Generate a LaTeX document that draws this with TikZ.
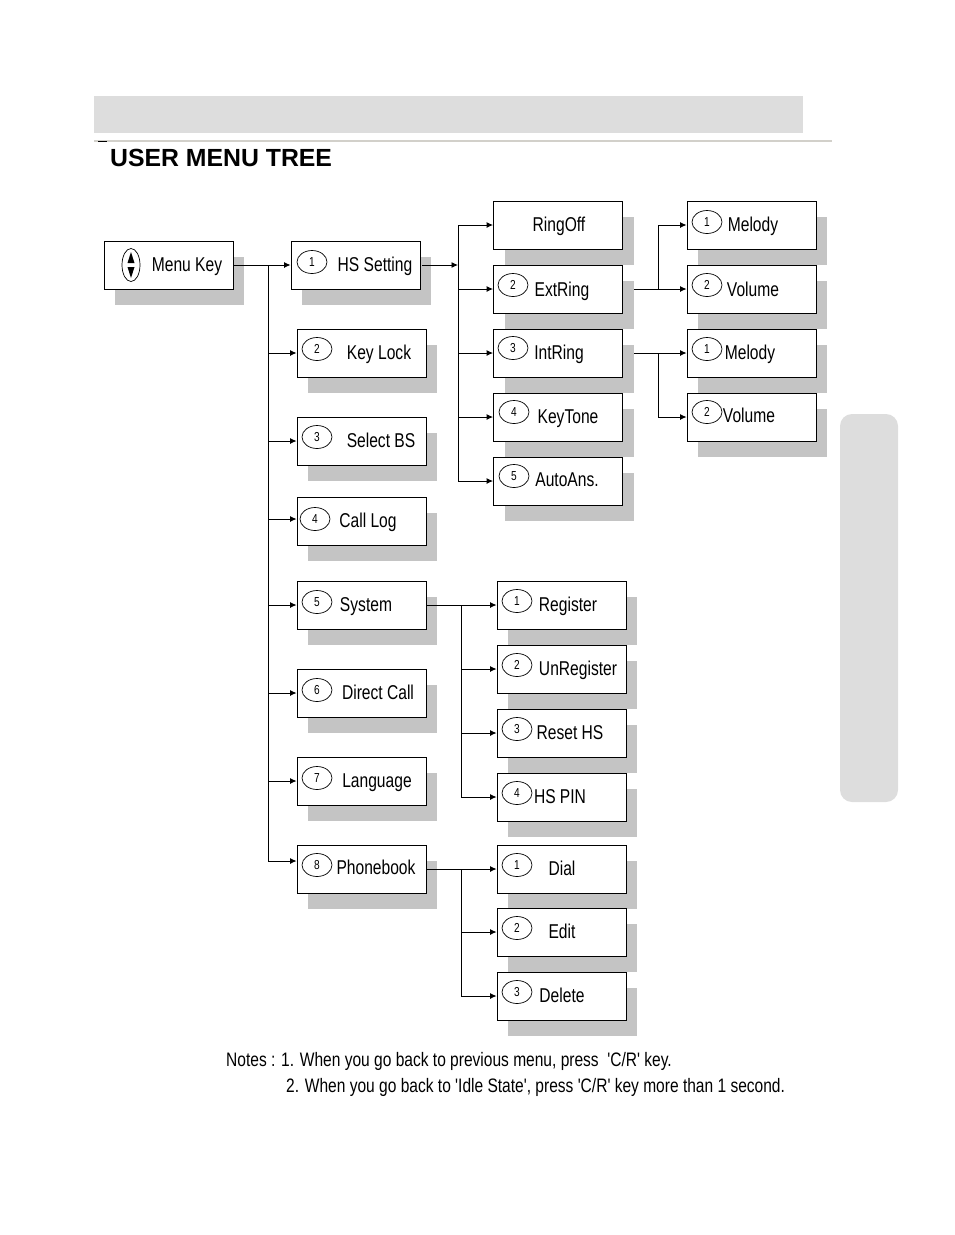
\documentclass[tikz,border=0pt]{standalone}
\usepackage{fontspec}
\newfontfamily\menufont[FakeStretch=0.78]{Liberation Sans}
\newfontfamily\notefont[FakeStretch=0.797]{Liberation Sans}
\newfontfamily\titlefont{Liberation Sans}
\usepackage{xcolor}
\definecolor{bargray}{HTML}{DDDDDD}
\definecolor{shadegray}{HTML}{C4C4C4}
\definecolor{rulegray}{HTML}{D2D0CA}
\usetikzlibrary{arrows.meta,shapes.geometric,shadows}
\tikzset{
  menubox/.style={rectangle,draw=black,fill=white,line width=0.9pt,minimum width=129pt,minimum height=48pt,inner sep=0pt,
    general shadow={shadow xshift=11pt,shadow yshift=-16pt,fill=shadegray}},
  badge/.style={ellipse,draw=black,fill=white,line width=0.7pt,minimum width=30pt,minimum height=23pt,inner sep=0pt,font=\menufont\fontsize{13}{13}\selectfont},
  menutext/.style={inner sep=0pt,text height=14pt,text depth=0pt,font=\menufont\fontsize{20}{20}\selectfont},
  notetext/.style={inner sep=0pt,anchor=west,font=\notefont\fontsize{19.5}{20}\selectfont},
  line/.style={draw,line width=0.9pt,-{Latex[length=6.5pt,width=6pt]}},
}
\begin{document}
\begin{tikzpicture}[x=1pt,y=-1pt]
  \useasboundingbox (0,0) rectangle (954,1235);
  % page furniture
  \fill[bargray] (94,96) rectangle (803,133);
  \fill[rulegray] (94,140) rectangle (832,142);
  \draw[black,line width=0.8pt] (98,141) -- (107,141);
  \fill[bargray,rounded corners=12pt] (840,414) rectangle (898,802);
  \node[inner sep=0pt,anchor=west,font=\titlefont\bfseries\fontsize{24.8}{25}\selectfont] (title) at (110,157.5) {USER MENU TREE};

  % root
  \node[menubox] (menu) at (168.5,265) {};
  \node[ellipse,draw=black,line width=0.7pt,minimum width=18pt,minimum height=33pt,inner sep=0pt] (menui) at (131,265) {};
  \fill (127.5,263) -- (131,252) -- (134.5,263) -- cycle;
  \fill (127.5,267) -- (131,278) -- (134.5,267) -- cycle;
  \node[menutext] (menut) at (187,264) {Menu Key};

  % first level
  \node[menubox] (hs) at (355.5,265) {};
  \node[badge] (hsb) at (312,262) {1};
  \node[menutext] (hst) at (375,264) {HS Setting};
  \node[menubox] (lock) at (361.5,353) {};
  \node[badge] (lockb) at (317,349) {2};
  \node[menutext] (lockt) at (379,352) {Key Lock};
  \node[menubox] (sel) at (361.5,441) {};
  \node[badge] (selb) at (317,437) {3};
  \node[menutext] (selt) at (381,440) {Select BS};
  \node[menubox] (log) at (361.5,521) {};
  \node[badge] (logb) at (315,519) {4};
  \node[menutext] (logt) at (368,520) {Call Log};
  \node[menubox] (sys) at (361.5,605) {};
  \node[badge] (sysb) at (317,602) {5};
  \node[menutext] (syst) at (366,604) {System};
  \node[menubox] (direct) at (361.5,693) {};
  \node[badge] (directb) at (317,690) {6};
  \node[menutext] (directt) at (378,692) {Direct Call};
  \node[menubox] (lang) at (361.5,781) {};
  \node[badge] (langb) at (317,778) {7};
  \node[menutext] (langt) at (377,780) {Language};
  \node[menubox] (phone) at (361.5,869) {};
  \node[badge] (phoneb) at (317,865) {8};
  \node[menutext] (phonet) at (376,867) {Phonebook};

  % HS setting children
  \node[menubox] (off) at (558,225) {};
  \node[menutext] (offt) at (559,224) {RingOff};
  \node[menubox] (ext) at (558,289) {};
  \node[badge] (extb) at (513,285) {2};
  \node[menutext] (extt) at (562,289) {ExtRing};
  \node[menubox] (int) at (558,353) {};
  \node[badge] (intb) at (513,348) {3};
  \node[menutext] (intt) at (559,352) {IntRing};
  \node[menubox] (tone) at (558,417) {};
  \node[badge] (toneb) at (514,412) {4};
  \node[menutext] (tonet) at (568,416) {KeyTone};
  \node[menubox] (auto) at (558,481) {};
  \node[badge] (autob) at (514,476) {5};
  \node[menutext] (autot) at (567,479) {AutoAns.};

  % ring children
  \node[menubox] (mela) at (751.5,225) {};
  \node[badge] (melab) at (707,222) {1};
  \node[menutext] (melat) at (753,224) {Melody};
  \node[menubox] (vola) at (751.5,289) {};
  \node[badge] (volab) at (707,285) {2};
  \node[menutext] (volat) at (753,289) {Volume};
  \node[menubox] (melb) at (751.5,353) {};
  \node[badge] (melbb) at (707,349) {1};
  \node[menutext] (melbt) at (750,352) {Melody};
  \node[menubox] (volb) at (751.5,417) {};
  \node[badge] (volbb) at (707,412) {2};
  \node[menutext] (volbt) at (749,415) {Volume};

  % system children
  \node[menubox] (reg) at (561.5,605) {};
  \node[badge] (regb) at (517,601) {1};
  \node[menutext] (regt) at (568,604) {Register};
  \node[menubox] (unreg) at (561.5,669) {};
  \node[badge] (unregb) at (517,665) {2};
  \node[menutext] (unregt) at (578,668) {UnRegister};
  \node[menubox] (reset) at (561.5,733) {};
  \node[badge] (resetb) at (517,729) {3};
  \node[menutext] (resett) at (570,732) {Reset HS};
  \node[menubox] (pin) at (561.5,797) {};
  \node[badge] (pinb) at (517,793) {4};
  \node[menutext] (pint) at (560,796) {HS PIN};

  % phonebook children
  \node[menubox] (dial) at (561.5,869) {};
  \node[badge] (dialb) at (517,865) {1};
  \node[menutext] (dialt) at (562,868) {Dial};
  \node[menubox] (edit) at (561.5,932) {};
  \node[badge] (editb) at (517,928) {2};
  \node[menutext] (editt) at (562,931) {Edit};
  \node[menubox] (del) at (561.5,996) {};
  \node[badge] (delb) at (517,992) {3};
  \node[menutext] (delt) at (562,995) {Delete};

  % notes
  \node[notetext] (notea) at (226,1061) {Notes : 1. When you go back to previous menu, press\ \ 'C/R' key.};
  \node[notetext] (noteb) at (286,1087) {2. When you go back to 'Idle State', press 'C/R' key more than 1 second.};

  % trunks
  \coordinate (trunk) at (268,265);
  \coordinate (hstrunk) at (458,265);
  \coordinate (exttrunk) at (658,289);
  \coordinate (inttrunk) at (658,353);
  \coordinate (systrunk) at (461,605);
  \coordinate (phonetrunk) at (461,869);

  \path[line] (menu.east) -- (hs.west);
  \path[line] (trunk) |- (lock.west);
  \path[line] (trunk) |- (sel.west);
  \path[line] (trunk) |- ([yshift=2pt]log.west);
  \path[line] (trunk) |- (sys.west);
  \path[line] (trunk) |- (direct.west);
  \path[line] (trunk) |- (lang.west);
  \path[line] (trunk) |- ([yshift=8pt]phone.west);

  \path[line] ([xshift=2pt]hs.east) -- (hstrunk);
  \path[line] (hstrunk) |- (off.west);
  \path[line] (hstrunk) |- (ext.west);
  \path[line] (hstrunk) |- (int.west);
  \path[line] (hstrunk) |- (tone.west);
  \path[line] (hstrunk) |- (auto.west);

  \path[line] ([xshift=11pt]ext.east) -- (vola.west);
  \path[line] (exttrunk) |- (mela.west);
  \path[line] ([xshift=11pt]int.east) -- (melb.west);
  \path[line] (inttrunk) |- (volb.west);

  \path[line] (sys.east) -- (reg.west);
  \path[line] (systrunk) |- (unreg.west);
  \path[line] (systrunk) |- (reset.west);
  \path[line] (systrunk) |- (pin.west);

  \path[line] (phone.east) -- (dial.west);
  \path[line] (phonetrunk) |- (edit.west);
  \path[line] (phonetrunk) |- (del.west);
\end{tikzpicture}
\end{document}
